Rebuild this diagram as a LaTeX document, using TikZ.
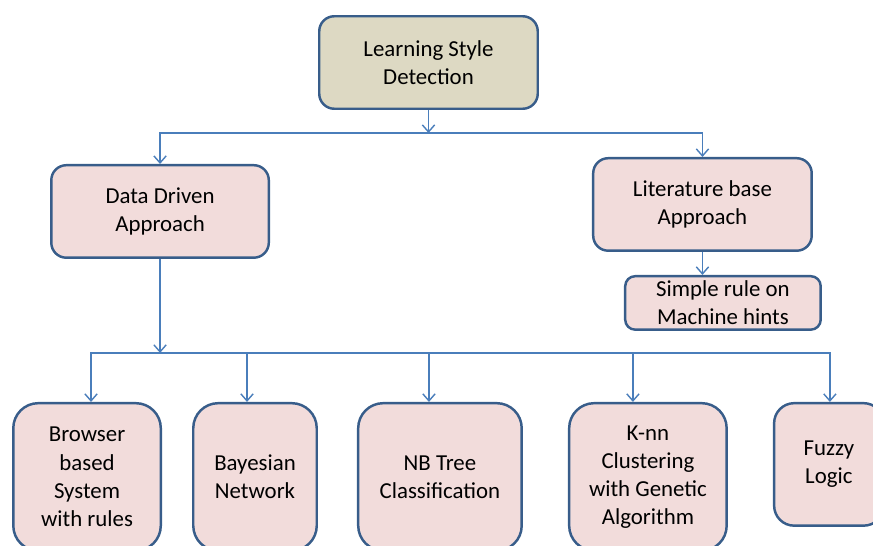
\documentclass[tikz,border=0pt]{standalone}
\usepackage{fontspec}
\setmainfont{Carlito}
\usetikzlibrary{positioning,arrows.meta}

\definecolor{boxline}{HTML}{385D8A}
\definecolor{linkblue}{HTML}{4A7EBB}
\definecolor{boxpink}{HTML}{F2DCDB}
\definecolor{boxtan}{HTML}{DDD9C3}

\begin{document}
\begin{tikzpicture}[node distance=1cm]
	\tikzstyle{every node}=[font=\fontsize{13}{16}\selectfont]
	\tikzstyle{box}=[draw=boxline, line width=1.4pt, fill=boxpink, align=center, inner sep=0pt]
	\tikzstyle{link}=[draw=linkblue, line width=0.8pt, -{Straight Barb[length=4pt,width=7pt]}]

	\useasboundingbox (0,0) rectangle (17.46,-10.92);

	% top levels
	\node[box, fill=boxtan, minimum width=4.37cm, minimum height=1.85cm, rounded corners=0.3cm] (lsd) at (8.57,-1.25) {Learning Style\\Detection};
	\node[box, minimum width=4.35cm, minimum height=1.85cm, rounded corners=0.3cm, below left= 1.08cm and 0.96cm of lsd] (dd) {Data Driven\\Approach};
	\node[box, minimum width=4.37cm, minimum height=1.85cm, rounded corners=0.3cm, below right= 0.94cm and 1.06cm of lsd] (lb) {Literature base\\Approach};
	\node[box, minimum width=3.91cm, minimum height=1.07cm, rounded corners=0.2cm, below= 0.46cm of lb, xshift=0.41cm] (sr) {Simple rule on\\Machine hints};

	% bottom row
	\node[box, minimum width=2.95cm, minimum height=2.95cm, rounded corners=0.5cm, below= 2.86cm of dd, xshift=-1.46cm] (bs) {Browser\\based\\System\\with rules};
	\node[box, minimum width=2.47cm, minimum height=2.95cm, rounded corners=0.5cm, right= 0.6cm of bs] (bn) {Bayesian\\Network};
	\node[box, minimum width=3.27cm, minimum height=2.95cm, rounded corners=0.5cm, right= 0.78cm of bn] (nb) {NB Tree\\Classification};
	\node[box, minimum width=3.15cm, minimum height=2.95cm, rounded corners=0.5cm, right= 0.9cm of nb] (kn) {K-nn\\Clustering\\with Genetic\\Algorithm};
	\node[box, minimum width=2.19cm, minimum height=2.45cm, rounded corners=0.4cm, below right= 0cm and 0.9cm of kn.north east] (fl) {Fuzzy\\Logic};

	\coordinate[below= 0.46cm of lsd] (j1);
	\coordinate[below= 1.88cm of dd] (j2);

	\draw[link] (lsd) -- (j1);
	\draw[link] (j1) -| (dd);
	\draw[link] (j1) -| (lb);
	\draw[link] (lb) -- (lb |- sr.north);
	\draw[link] (dd) -- (j2);
	\draw[link] (j2) -| ([xshift=0.08cm]bs.north);
	\draw[link] (j2) -| ([xshift=-0.16cm]bn.north);
	\draw[link] (j2) -| ([xshift=-0.22cm]nb.north);
	\draw[link] (j2) -| ([xshift=-0.3cm]kn.north);
	\draw[link] (j2) -| ([xshift=0.02cm]fl.north);
\end{tikzpicture}
\end{document}
